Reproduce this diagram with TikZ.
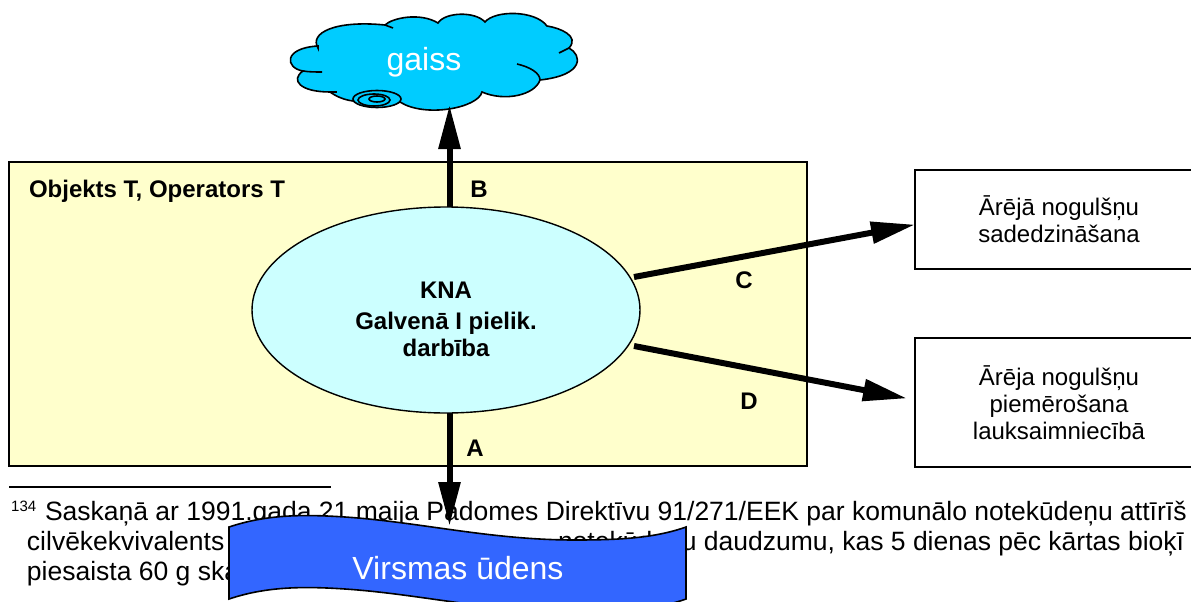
\documentclass[tikz,border=0pt]{standalone}
\usepackage{fontspec}
\setmainfont{Liberation Sans}
\usetikzlibrary{arrows.meta,shapes.geometric}
\definecolor{yel}{HTML}{FFFFCC}
\definecolor{ell}{HTML}{CCFFFF}
\definecolor{cld}{HTML}{00CCFF}
\definecolor{ban}{HTML}{3366FF}
\tikzset{
 flow/.style={line width=6pt,-{Triangle[length=44pt,width=21pt]}},
 outl/.style={draw=black,line width=1.6pt},
 boldt/.style={inner sep=0pt,outer sep=0pt,align=center,font=\fontsize{24}{29}\selectfont\bfseries},
 foot/.style={inner sep=0pt,outer sep=0pt,anchor=base west,font=\fontsize{26.5}{30}\selectfont},
 big/.style={inner sep=0pt,text=white,font=\fontsize{32}{38}\selectfont},
 tbox/.style={outl,fill=white,minimum width=288pt,inner sep=0pt,align=center,font=\fontsize{24}{27}\selectfont},
}
\begin{document}
\begin{tikzpicture}[x=1pt,y=-1pt]
\useasboundingbox (0,0) rectangle (1191,602);
\clip (0,0) rectangle (1191,602);
\fill[white] (0,0) rectangle (1191,602);
% panel
\node[outl,fill=yel,minimum width=798pt,minimum height=304pt,inner sep=0pt] (panel) at (408,314) {};
\node[boldt,anchor=base west] (obj) at (29,197) {Objekts T, Operators T};
% boxes
\node[tbox,minimum height=99pt] (sad) at (1059,219.5) {Ārējā nogulšņu\\sadedzināšana};
\node[tbox,minimum height=129pt] (lauk) at (1059,402.5) {Ārēja nogulšņu\\piemērošana\\lauksaimniecībā};
% footnote
\draw[line width=2pt] (9,487) -- (331,487);
\node[anchor=base west,inner sep=0pt,font=\fontsize{15}{18}\selectfont] (fnum) at (11,511) {134};
\node[foot] (f1) at (45,520) {Saskaņā ar 1991.gada 21 maija Padomes Direktīvu 91/271/EEK par komunālo notekūdeņu attīrīš};
\node[foot] (f2) at (27,550) {cilvēkekvivalents ir};
\node[foot] (f2b) at (558,550) {notekūdeņu daudzumu, kas 5 dienas pēc kārtas bioķī};
\node[foot] (f3) at (27,580) {piesaista 60 g skābekļa};
% ellipse
\node[ellipse,draw=black,line width=1.4pt,fill=ell,minimum width=388pt,minimum height=206pt,inner sep=0pt] (kna) at (446,310) {};
\node[boldt,anchor=base] (t1) at (446,298) {KNA};
\node[boldt,anchor=base] (t2) at (446,329) {Galvenā I pielik.};
\node[boldt,anchor=base] (t3) at (446,356) {darbība};
% free ends
\coordinate (tipB) at (449.5,105);
\coordinate (tipA) at (449.5,526);
\coordinate (tipC) at (915,224.6);
\coordinate (tipD) at (907,398.4);
\coordinate (startB) at (449.5,207);
\coordinate (startA) at (449.5,413);
\coordinate (startC) at (634,277);
\coordinate (startD) at (634,346);
\draw[flow] (startA) -- (tipA);
\draw[flow] (startC) -- (tipC);
\draw[flow] (startD) -- (tipD);
\node[boldt,anchor=base] (lb) at (479,197) {B};
\node[boldt,anchor=base] (la) at (475,456) {A};
\node[boldt,anchor=base] (lc) at (744,288) {C};
\node[boldt,anchor=base] (ld) at (749,409) {D};
% cloud
\path[outl,fill=cld] (318,48) .. controls (309,33) and (335,20) .. (385,25)
 .. controls (392,18) and (420,12) .. (438,23)
 .. controls (445,12) and (475,11) .. (485,22)
 .. controls (495,10) and (535,10) .. (547,26)
 .. controls (560,28) and (580,36) .. (569,48)
 .. controls (582,55) and (585,75) .. (540,80)
 .. controls (535,95) and (505,102) .. (482,92)
 .. controls (478,108) and (425,118) .. (400,102)
 .. controls (385,108) and (365,108) .. (353,101)
 .. controls (345,100) and (337,97) .. (330,92)
 .. controls (300,92) and (290,80) .. (303,71)
 .. controls (285,68) and (283,48) .. (318,46) -- cycle;
\draw[outl] (385,25) -- (393,28);
\draw[outl] (569,48) -- (559,53);
\draw[outl] (517,64) .. controls (530,67) and (540,73) .. (540,80);
\draw[outl] (330,92) -- (337,92);
\draw[outl] (303,71) .. controls (309,72) and (316,72) .. (322,72);
\draw[outl,fill=cld] (377,99) ellipse [x radius=24,y radius=8.5];
\draw[outl] (374,100) ellipse [x radius=16,y radius=6];
\draw[outl] (377,99) ellipse [x radius=8,y radius=3];
\node[big] (gaiss) at (424,62) {gaiss};
\draw[flow] (startB) -- (tipB);
% banner
\path[outl,fill=ban] (229,527) .. controls (265,515) and (300,514) .. (345,517)
 .. controls (420,522) and (490,540) .. (575,540)
 .. controls (620,540) and (655,538) .. (686,527)
 -- (686,599)
 .. controls (655,610) and (620,612) .. (575,612)
 .. controls (490,612) and (420,594) .. (345,589)
 .. controls (300,586) and (265,587) .. (229,599) -- cycle;
\node[big] (virs) at (458,568) {Virsmas ūdens};
\end{tikzpicture}
\end{document}
